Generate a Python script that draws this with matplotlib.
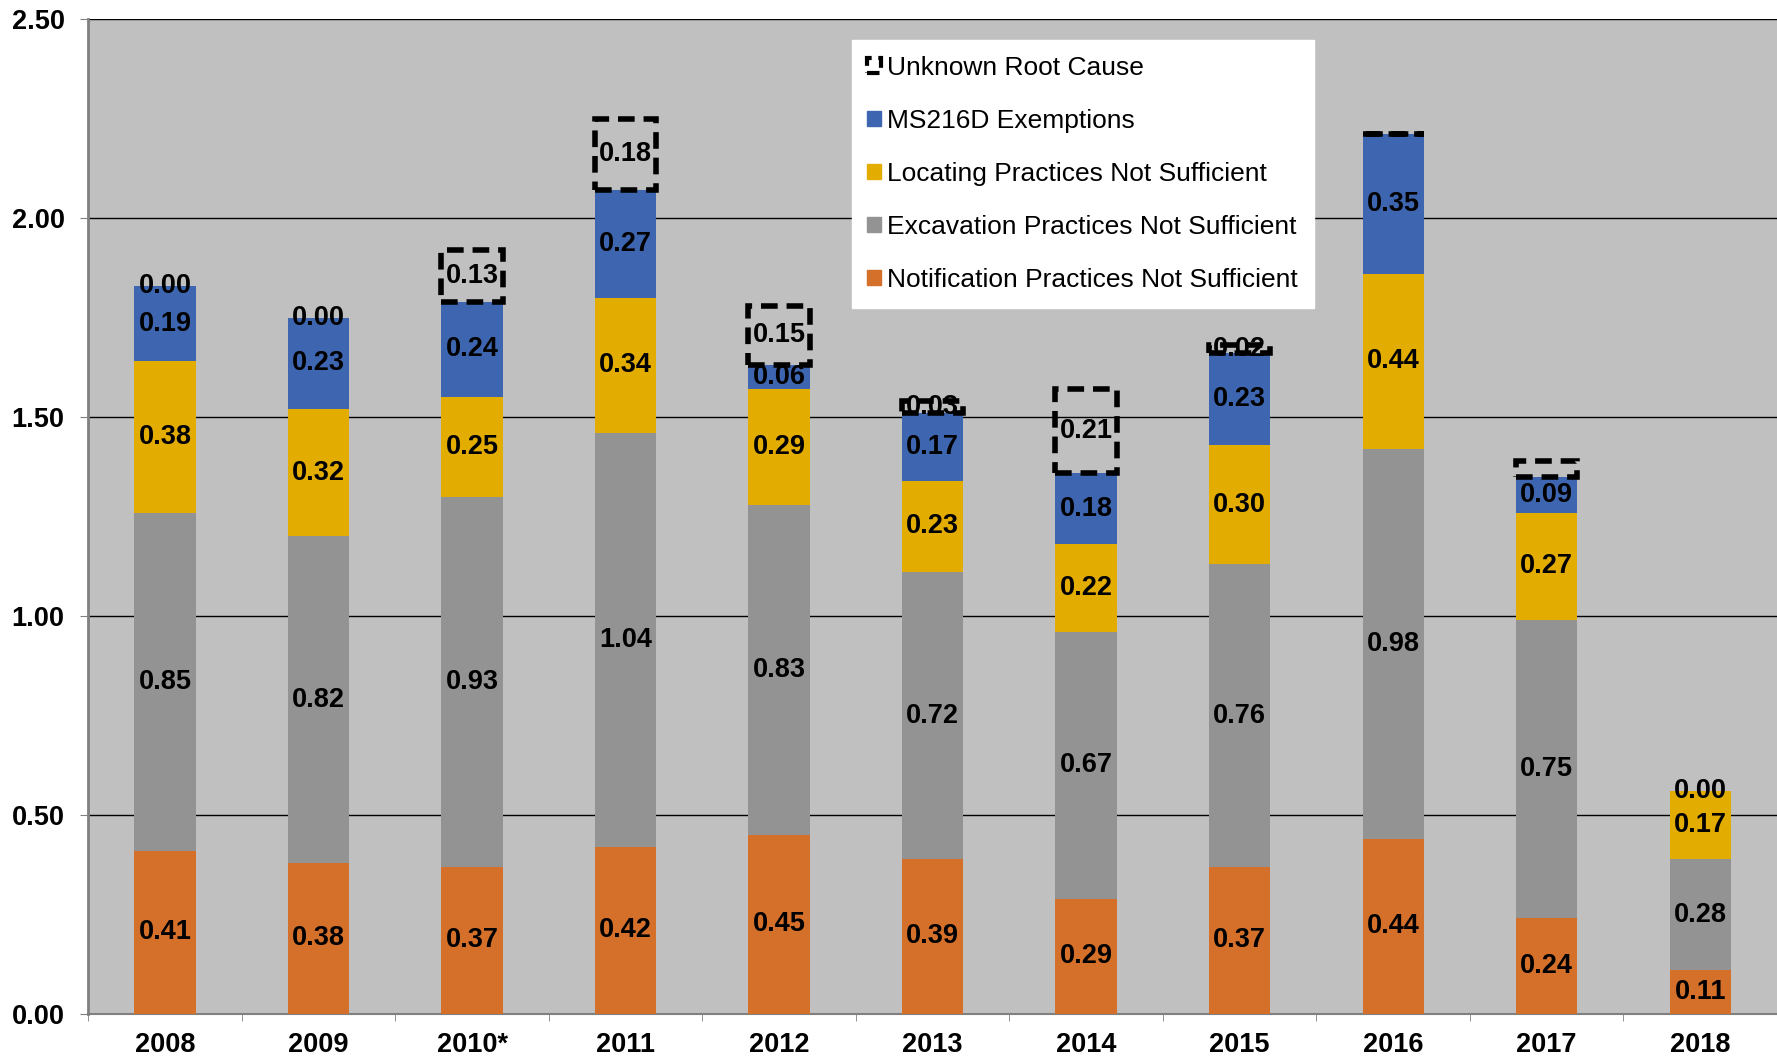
import numpy as np
import matplotlib
matplotlib.use('Agg')
from matplotlib import pyplot as plt
from matplotlib.patches import Patch

plt.rcParams['font.family'] = ['Liberation Sans', 'DejaVu Sans']

years = ['2008', '2009', '2010*', '2011', '2012', '2013', '2014', '2015', '2016', '2017', '2018']
notification = [0.41, 0.38, 0.37, 0.42, 0.45, 0.39, 0.29, 0.37, 0.44, 0.24, 0.11]
excavation = [0.85, 0.82, 0.93, 1.04, 0.83, 0.72, 0.67, 0.76, 0.98, 0.75, 0.28]
locating = [0.38, 0.32, 0.25, 0.34, 0.29, 0.23, 0.22, 0.30, 0.44, 0.27, 0.17]
ms216d = [0.19, 0.23, 0.24, 0.27, 0.06, 0.17, 0.18, 0.23, 0.35, 0.09, 0.00]
unknown = [0.00, 0.00, 0.13, 0.18, 0.15, 0.03, 0.21, 0.02, 0.00, 0.04, 0.00]
# which unknown values carry a label / a visible dashed outline
unknown_label = [True, True, True, True, True, True, True, True, False, False, False]
unknown_outline = [False, False, True, True, True, True, True, True, True, True, False]

C_NOT = '#D4702A'
C_EXC = '#939393'
C_LOC = '#E3AC00'
C_MS = '#3E66B0'
DASH = (0, (3, 1.6))
FS = 19.5

fig = plt.figure(figsize=(17.77, 10.6), dpi=100)
ax = fig.add_axes([0.0497, 0.0434, 0.9503, 0.9386])
ax.set_facecolor('#C0C0C0')

x = np.arange(len(years))
w = 0.4
bottom = np.zeros(len(years))
for vals, col, lab in [(notification, C_NOT, 'Notification Practices Not Sufficient'),
                       (excavation, C_EXC, 'Excavation Practices Not Sufficient'),
                       (locating, C_LOC, 'Locating Practices Not Sufficient'),
                       (ms216d, C_MS, 'MS216D Exemptions')]:
    v = np.array(vals)
    ax.bar(x, v, w, bottom=bottom, color=col, label=lab, zorder=3)
    for xi, b, vi in zip(x, bottom, v):
        if lab == 'MS216D Exemptions' and vi == 0 and xi != 10:
            continue
        ax.text(xi, b + vi / 2, '%.2f' % vi, ha='center', va='center',
                fontsize=FS, fontweight='bold', zorder=5)
    bottom = bottom + v

# unknown root cause: dashed outline only
u = np.array(unknown)
for xi, b, vi, o in zip(x, bottom, u, unknown_outline):
    if o:
        ax.bar(xi, vi, w, bottom=b, facecolor='none', edgecolor='black',
               linewidth=4, linestyle=DASH, zorder=4)
for xi, b, vi, s in zip(x, bottom, u, unknown_label):
    if s and xi != 10:
        ax.text(xi, b + vi / 2, '%.2f' % vi, ha='center', va='center',
                fontsize=FS, fontweight='bold', zorder=5)

ax.set_xlim(-0.5, 10.5)
ax.set_ylim(0, 2.5)
yt = np.arange(0, 2.51, 0.5)
ax.set_yticks(yt)
ax.set_yticklabels(['%.2f' % t for t in yt], fontsize=FS, fontweight='bold')
ax.set_xticks(x)
ax.set_xticklabels(years, fontsize=FS, fontweight='bold')
ax.tick_params(axis='x', length=0, pad=13)
ax.set_xticks(np.arange(-0.5, 11, 1), minor=True)
ax.tick_params(axis='x', which='minor', length=5, color='#808080')
ax.tick_params(axis='y', length=6, color='#808080', pad=11)
ax.grid(axis='y', color='black', linewidth=1, zorder=1)
ax.set_axisbelow(True)
for s in ['top', 'right']:
    ax.spines[s].set_visible(False)
ax.spines['left'].set_color('#808080')
ax.spines['left'].set_linewidth(2)
ax.spines['bottom'].set_color('#808080')
ax.spines['bottom'].set_linewidth(1.5)

handles = [Patch(facecolor='none', edgecolor='black', linewidth=3, linestyle=DASH),
           Patch(color=C_MS), Patch(color=C_LOC), Patch(color=C_EXC), Patch(color=C_NOT)]
labels = ['Unknown Root Cause', 'MS216D Exemptions', 'Locating Practices Not Sufficient',
          'Excavation Practices Not Sufficient', 'Notification Practices Not Sufficient']
leg = ax.legend(handles, labels, loc='upper left', bbox_to_anchor=(0.452, 0.979),
                fontsize=19, frameon=True, fancybox=False, framealpha=1,
                edgecolor='white', handlelength=0.5, handleheight=0.5,
                handletextpad=0.25, labelspacing=1.1, borderpad=0.6,
                borderaxespad=0)
leg.set_zorder(6)

fig.savefig('out.png', dpi=100, facecolor='white')
